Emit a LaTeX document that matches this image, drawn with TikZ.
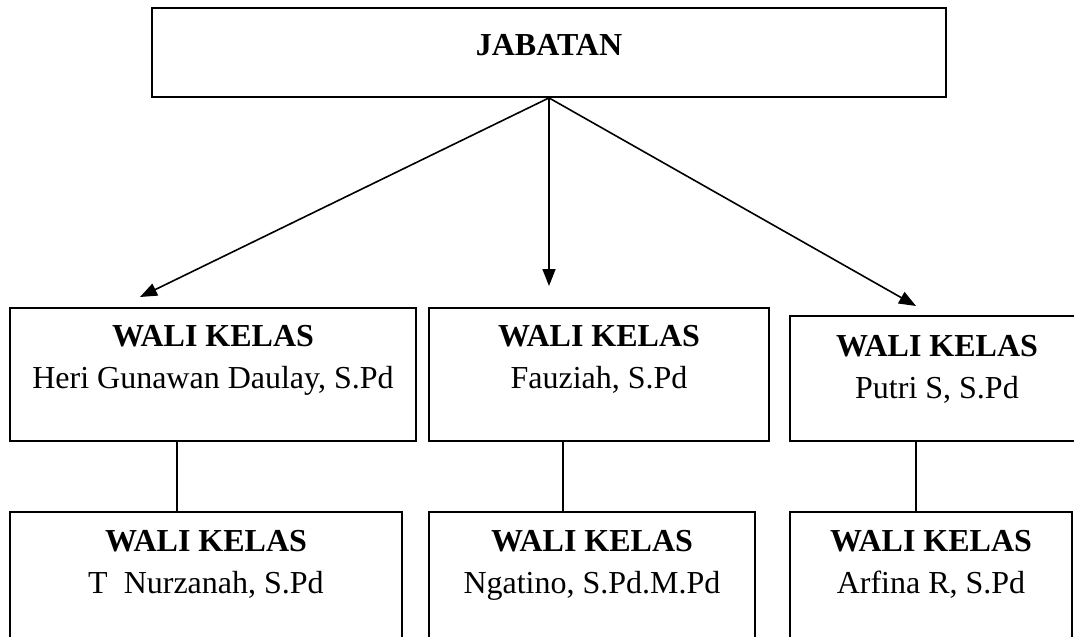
\documentclass[tikz,border=0pt]{standalone}
\usepackage{fontspec}
\setmainfont{Liberation Serif}
\usetikzlibrary{arrows.meta}

\tikzset{
  kotak/.style={draw, rectangle, line width=1.8pt, inner sep=0pt},
  isi/.style={align=center, anchor=north, inner sep=0pt},
  garis/.style={line width=1.6pt},
  panah/.style={line width=1.6pt, -{Triangle[length=17pt, width=13pt]}}
}

\begin{document}
\begin{tikzpicture}[x=1pt, y=-1pt, font=\fontsize{32}{42}\selectfont]
        \useasboundingbox (0,0) rectangle (1074,637);
        \clip (0,0) rectangle (1074,637);
        \node[kotak, minimum width=794, minimum height=89] (jab) at (549,52.5) {};
        \node[isi, font=\fontsize{32}{42}\selectfont\bfseries] (jab-t) at (549,34) {JABATAN};
        \node[kotak, minimum width=406, minimum height=133] (wk1) at (213,374.5) {};
        \node[kotak, minimum width=340, minimum height=133] (wk2) at (599,374.5) {};
        \node[kotak, minimum width=294, minimum height=125] (wk3) at (937,378.5) {};
        \node[kotak, minimum width=392, minimum height=150] (wk4) at (206,587) {};
        \node[kotak, minimum width=326, minimum height=150] (wk5) at (592,587) {};
        \node[kotak, minimum width=282, minimum height=150] (wk6) at (931,587) {};
        \node[isi] (wk1-t) at ([yshift=-18pt]wk1.north) {\textbf{WALI KELAS}\\Heri Gunawan Daulay, S.Pd};
        \node[isi] (wk2-t) at ([yshift=-18pt]wk2.north) {\textbf{WALI KELAS}\\Fauziah, S.Pd};
        \node[isi] (wk3-t) at ([yshift=-20pt]wk3.north) {\textbf{WALI KELAS}\\Putri S, S.Pd};
        \node[isi] (wk4-t) at ([yshift=-19pt]wk4.north) {\textbf{WALI KELAS}\\T\ \ Nurzanah, S.Pd};
        \node[isi] (wk5-t) at ([yshift=-19pt]wk5.north) {\textbf{WALI KELAS}\\Ngatino, S.Pd.M.Pd};
        \node[isi] (wk6-t) at ([yshift=-19pt]wk6.north) {\textbf{WALI KELAS}\\Arfina R, S.Pd};
        \coordinate (u1) at (140,297);
        \coordinate (u2) at (549,286);
        \coordinate (u3) at (916,306);
        \draw[panah] (jab.south) -- (u1);
        \draw[panah] (jab.south) -- (u2);
        \draw[panah] (jab.south) -- (u3);
        \coordinate (g1) at (177,0);
        \coordinate (g2) at (563,0);
        \coordinate (g3) at (916,0);
        \draw[garis] (wk1.south -| g1) -- (wk4.north -| g1);
        \draw[garis] (wk2.south -| g2) -- (wk5.north -| g2);
        \draw[garis] (wk3.south -| g3) -- (wk6.north -| g3);
      \end{tikzpicture}
\end{document}
